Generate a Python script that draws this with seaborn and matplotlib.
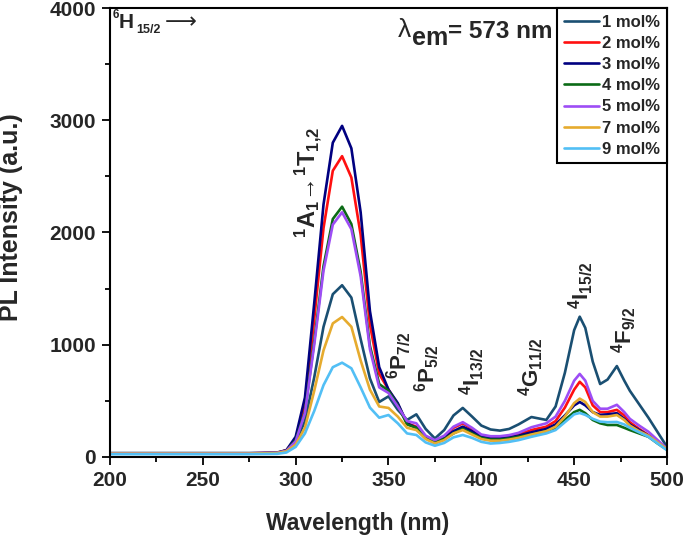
import numpy as np
import pandas as pd
import matplotlib
matplotlib.use("Agg")
import matplotlib.pyplot as plt
import seaborn as sns
from matplotlib.ticker import MultipleLocator

# ---DATA---
wl = [200, 225, 250, 275, 290, 295,
      300, 305, 310, 315, 320, 325, 330, 335, 340, 345, 350, 355, 360, 365,
      370, 375, 380, 385, 390, 395, 400, 405, 410, 415, 420,
      427, 435, 440, 445, 450,
      453, 456, 460, 464, 468,
      473, 477, 480, 485, 490, 495, 500]

mol1 = [35, 35, 35, 35, 40, 60,
        130, 320, 710, 1160, 1450, 1530, 1420, 1050, 700, 490, 540, 420, 330, 380,
        250, 165, 240, 370, 437, 360, 280, 245, 235, 250, 290,
        356, 330, 450, 750, 1130,
        1250, 1150, 850, 650, 690,
        810, 680, 590, 470, 350, 220, 90]
mol2 = [32, 32, 32, 32, 38, 60,
        160, 480, 1230, 2040, 2550, 2680, 2490, 1980, 1180, 740, 600, 470, 300, 270,
        180, 140, 180, 260, 300, 250, 190, 170, 170, 180, 200,
        240, 270, 320, 440, 600,
        670, 620, 460, 400, 400,
        420, 370, 310, 250, 195, 130, 70]
mol3 = [30, 30, 30, 30, 36, 60,
        180, 530, 1370, 2250, 2800, 2950, 2750, 2180, 1300, 800, 600, 480, 300, 260,
        180, 140, 170, 230, 270, 230, 180, 165, 165, 175, 190,
        220, 250, 290, 370, 460,
        490, 460, 400, 375, 380,
        390, 340, 290, 240, 190, 130, 70]
mol4 = [30, 30, 30, 30, 36, 55,
        150, 400, 1030, 1700, 2120, 2230, 2075, 1650, 990, 650, 590, 460, 290, 260,
        170, 135, 160, 210, 250, 210, 170, 155, 155, 165, 180,
        200, 230, 260, 330, 400,
        420, 390, 330, 300, 285,
        285, 260, 240, 210, 180, 120, 65]
mol5 = [33, 33, 33, 33, 38, 55,
        140, 390, 1000, 1660, 2070, 2180, 2030, 1610, 960, 620, 570, 450, 320, 300,
        190, 150, 190, 270, 310, 260, 200, 185, 185, 195, 215,
        265, 300, 360, 500, 680,
        740, 680, 500, 430, 430,
        465, 400, 340, 280, 225, 150, 75]
mol7 = [30, 30, 30, 30, 35, 50,
        110, 260, 590, 950, 1190, 1247, 1160, 860, 600, 450, 437, 360, 260, 240,
        160, 120, 150, 210, 240, 200, 160, 145, 145, 155, 170,
        200, 230, 270, 360, 480,
        520, 490, 400, 360, 360,
        374, 330, 280, 230, 190, 130, 70]
mol9 = [25, 25, 25, 25, 28, 40,
        90, 210, 410, 640, 800, 840, 790, 620, 440, 350, 374, 300, 210, 196,
        130, 100, 125, 175, 196, 170, 135, 120, 125, 135, 150,
        180, 210, 240, 310, 380,
        392, 375, 340, 315, 310,
        312, 290, 260, 220, 180, 120, 60]

labels = ["1 mol%", "2 mol%", "3 mol%", "4 mol%", "5 mol%", "7 mol%", "9 mol%"]
series = [mol1, mol2, mol3, mol4, mol5, mol7, mol9]
colors = ["#1a4f72", "#ff1010", "#000080", "#0b6b16", "#9d4df5", "#e6ab2e", "#52bff5"]

# long-form table for seaborn
df = pd.concat([pd.DataFrame({"Wavelength": wl, "Intensity": s, "Conc": lab})
                for s, lab in zip(series, labels)], ignore_index=True)

sns.set_style("ticks")
plt.rcParams['font.family'] = ['Liberation Sans', 'DejaVu Sans']
plt.rcParams['font.weight'] = 'bold'
plt.rcParams['mathtext.fontset'] = 'custom'
plt.rcParams['mathtext.rm'] = 'Liberation Sans:bold'
plt.rcParams['mathtext.bf'] = 'Liberation Sans:bold'
plt.rcParams['mathtext.it'] = 'Liberation Sans:bold'

fig = plt.figure(figsize=(6.85, 5.37), dpi=100)
ax = fig.add_axes([0.1606, 0.149, 0.8131, 0.8361])

sns.lineplot(data=df, x="Wavelength", y="Intensity", hue="Conc",
             hue_order=labels, palette=dict(zip(labels, colors)),
             linewidth=1.9, legend=False, ax=ax, sort=False, errorbar=None)

ax.set_xlim(200, 500)
ax.set_ylim(0, 4000)
ax.xaxis.set_major_locator(MultipleLocator(50))
ax.xaxis.set_minor_locator(MultipleLocator(25))
ax.yaxis.set_major_locator(MultipleLocator(1000))
ax.yaxis.set_minor_locator(MultipleLocator(500))
ax.tick_params(which='major', length=6, width=1.3, labelsize=15, pad=4, color='black')
ax.tick_params(which='minor', length=3.5, width=1.3, color='black')
for lab in ax.get_xticklabels() + ax.get_yticklabels():
    lab.set_fontweight('bold')
for sp in ax.spines.values():
    sp.set_linewidth(1.5)
    sp.set_color('black')

ax.set_xlabel("Wavelength (nm)", fontsize=16.5, fontweight='bold')
ax.set_ylabel("PL Intensity (a.u.)", fontsize=18, fontweight='bold')
ax.xaxis.set_label_coords(0.445, -0.1225)
ax.yaxis.set_label_coords(-0.156, 0.535)

# legend
leg = ax.legend(ax.lines[:len(labels)], labels, loc='upper right', borderaxespad=0,
                fontsize=12, handlelength=2.1, handletextpad=0.2, labelspacing=0.37,
                borderpad=0.4, fancybox=False, framealpha=1, edgecolor='black')
leg.get_frame().set_linewidth(1.5)
for t in leg.get_texts():
    t.set_fontweight('bold')
for h in leg.get_lines():
    h.set_linewidth(1.9)

# annotations: 6H15/2 -> built from pieces
ax.text(201.6, 3911, "6", fontsize=8.5, ha='left', va='baseline')
ax.text(204.8, 3822, "H", fontsize=15, ha='left', va='baseline')
ax.text(214.0, 3778, "15/2", fontsize=9, ha='left', va='baseline')
ax.text(229.6, 3822, "⟶", fontsize=16, fontweight='normal',
        family=['DejaVu Sans', 'Noto Sans'], ha='left', va='baseline')
ax.text(355.1, 3742, "λ", fontsize=19, fontweight='normal', ha='left', va='baseline')
ax.text(362.6, 3670, "em", fontsize=18, fontweight='bold', ha='left', va='baseline')
ax.text(382.0, 3733, "= 573 nm", fontsize=17.5, fontweight='bold', ha='left', va='baseline')

ax.text(306.6, 2450, r"$^{1}\mathrm{A}_{1}\!\rightarrow\!^{1}\mathrm{T}_{1{,}2}$",
        fontsize=17, rotation=90, ha='center', va='center')
peaks = [(356, 909, r"$^{6}$P$_{7/2}$"),
         (370.7, 793, r"$^{6}$P$_{5/2}$"),
         (395, 766, r"$^{4}$I$_{13/2}$"),
         (427, 802, r"$^{4}$G$_{11/2}$"),
         (453.7, 1532, r"$^{4}$I$_{15/2}$"),
         (477, 1131, r"$^{4}$F$_{9/2}$")]
for x, y, s in peaks:
    ax.text(x, y, s, fontsize=16, fontweight='bold', rotation=90, ha='center', va='center')

plt.savefig("out.png", dpi=100)
